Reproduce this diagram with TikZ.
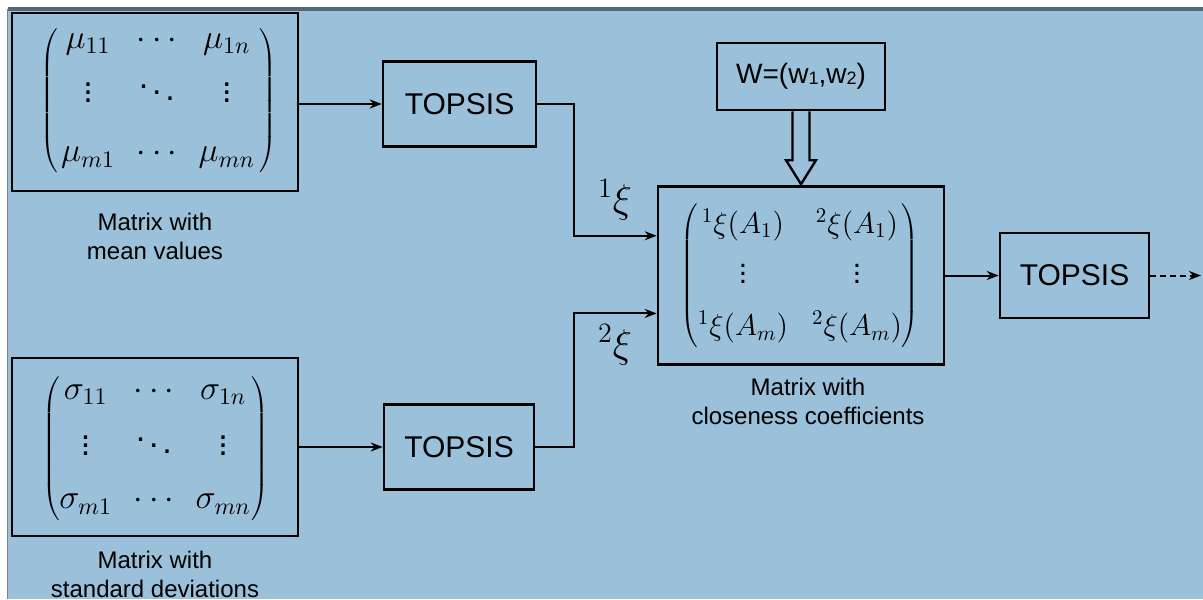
\documentclass[tikz,border=0pt]{standalone}
\usepackage{fix-cm}
\usepackage{amsmath}
\usepackage{fontspec}
\setmainfont{Liberation Sans}
\usetikzlibrary{matrix,arrows.meta,calc}
\definecolor{bgblue}{HTML}{9BC0DA}
\definecolor{framecol}{HTML}{50687A}
\newcommand{\subd}[1]{\raisebox{-0.3pt}{\fontsize{9}{9}\selectfont #1}}
\tikzset{
  topsisbox/.style={draw, line width=1.3pt, minimum width=75pt, minimum height=42.5pt,
    inner sep=0pt, font=\fontsize{15}{18}\selectfont},
  matbox/.style={draw, line width=1.3pt, minimum width=143pt, minimum height=89pt, inner sep=0pt},
  wbox/.style={draw, line width=1.3pt, minimum width=84pt, minimum height=33.5pt,
    inner sep=0pt, font=\fontsize{14}{16}\selectfont},
  caption/.style={align=center, font=\fontsize{12}{14.5}\selectfont},
  conn/.style={line width=1pt, -{Stealth[length=6pt,width=4.5pt]}},
  mmat/.style={matrix of math nodes, left delimiter=(, right delimiter=),
    nodes={inner sep=0.5pt}},
  xilab/.style={font=\fontsize{20}{24}\selectfont}
}
\begin{document}
\begin{tikzpicture}[x=0.5pt,y=-0.5pt]
\useasboundingbox (0,0) rectangle (1203,599);
% background
\fill[bgblue] (8,8) rectangle (1203,599);
\draw[framecol, line width=2pt] (8,9.5) -- (1203,9.5);
\draw[framecol!80, line width=0.8pt] (7.5,9) -- (7.5,599);

% mean matrix
\node[matbox] (muBox) at (155,102) {};
\tikzset{every left delimiter/.style={xshift=3.5pt},
         every right delimiter/.style={xshift=-3pt}}
\matrix (muMat) at (158,101) [mmat, column sep=10pt, row sep=7pt,
   nodes={font=\fontsize{17}{20}\selectfont}] {
  \mu_{11} & \cdots & \mu_{1n} \\
  \vdots & \ddots & \vdots \\[14pt]
  \mu_{m1} & \cdots & \mu_{mn} \\
};
\node[caption] (muLab) at (155,236.5) {Matrix with\\mean values};

% std matrix
\node[matbox] (sgBox) at (155,447) {};
\tikzset{every left delimiter/.style={xshift=5.5pt},
         every right delimiter/.style={xshift=-5pt}}
\matrix (sgMat) at (155,449) [mmat, column sep=10pt, row sep=9pt,
   nodes={font=\fontsize{17}{20}\selectfont}] {
  \sigma_{11} & \cdots & \sigma_{1n} \\
  \vdots & \ddots & \vdots \\[9pt]
  \sigma_{m1} & \cdots & \sigma_{mn} \\
};
\node[caption] (sgLab) at (155,574.5) {Matrix with\\standard deviations};

% TOPSIS boxes
\node[topsisbox, minimum width=76.5pt] (top1) at (459.5,104) {TOPSIS};
\node[topsisbox] (top2) at (459,447) {TOPSIS};

% closeness matrix
\node[matbox] (ccBox) at (801,275.5) {};
\tikzset{every left delimiter/.style={xshift=5.5pt},
         every right delimiter/.style={xshift=-5.5pt}}
\matrix (ccMat) at (800,276) [mmat, column sep=11pt, row sep=4.5pt,
   nodes={font=\fontsize{15}{18}\selectfont}] {
  {}^{1}\xi(A_{1}) & {}^{2}\xi(A_{1}) \\
  \vdots & \vdots \\[8.5pt]
  {}^{1}\xi(A_{m}) & {}^{2}\xi(A_{m}) \\
};
\node[caption] (ccLab) at (808,401) {Matrix with\\closeness coefficients};

% weights
\node[wbox] (W) at (801,76.5) {W=(w\subd{1},w\subd{2})};

% third TOPSIS
\node[topsisbox, minimum width=74.5pt] (top3) at (1074.5,275.5) {TOPSIS};

% labels
\node[xilab] (xi1) at (615,200) {${}^{1}\xi$};
\node[xilab] (xi2) at (615,345) {${}^{2}\xi$};

% connectors
\coordinate (in1) at ($(ccBox.north west)!0.28!(ccBox.south west)$);
\coordinate (in2) at ($(ccBox.north west)!0.71!(ccBox.south west)$);
\coordinate (out) at (1201,275.5);
\draw[conn] (muBox.east |- top1.west) -- (top1.west);
\draw[conn] (sgBox.east |- top2.west) -- (top2.west);
\draw[conn] (top1.east) -- ++(37,0) |- (in1);
\draw[conn] (top2.east) -- ++(39,0) |- (in2);
\draw[conn] (ccBox.east |- top3.west) -- (top3.west);
\draw[conn, dash pattern=on 3pt off 2pt] (top3.east) -- (out);

% hollow arrow from W to closeness matrix
\draw[line width=1.2pt, fill=bgblue, line join=miter]
  ($(W.south)+(-8.5,0)$) -- ($(ccBox.north)+(-8.5,-25)$) -- ($(ccBox.north)+(-15,-25)$)
  -- ($(ccBox.north)+(0,-1)$) -- ($(ccBox.north)+(15,-25)$) -- ($(ccBox.north)+(8.5,-25)$)
  -- ($(W.south)+(8.5,0)$);
\end{tikzpicture}
\end{document}
